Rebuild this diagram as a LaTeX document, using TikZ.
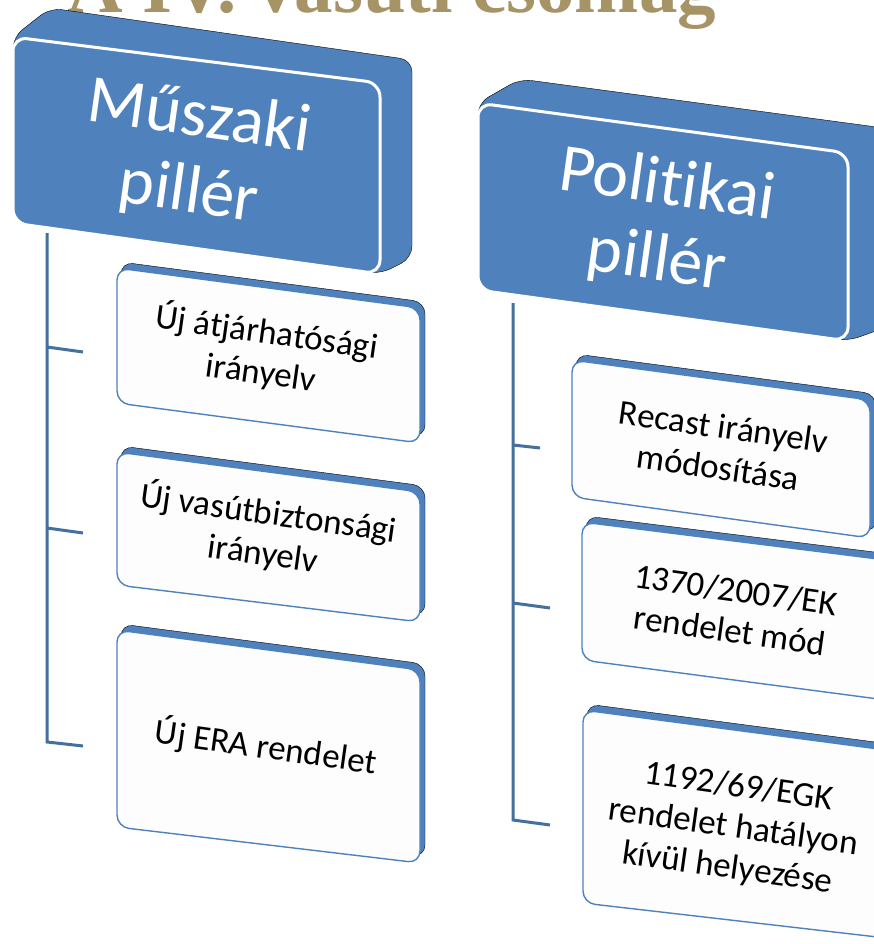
\documentclass[tikz,border=0pt]{standalone}
\usepackage{fontspec}
\setmainfont{Carlito}[Ligatures=CommonOff]
\newfontfamily\titlefont{Liberation Serif}
\definecolor{hdrblue}{HTML}{4F81BD}
\definecolor{lineblue}{HTML}{44709F}
\definecolor{titlegold}{HTML}{A69467}
\definecolor{facewhite}{HTML}{FDFDFD}
\tikzset{
  extr/.style={fill=hdrblue, rounded corners=12pt},
  hdrface/.style={fill=hdrblue, draw=white, line width=3pt, rounded corners=14pt},
  childback/.style={fill=hdrblue, rounded corners=12pt},
  childface/.style={fill=facewhite, draw=hdrblue, line width=1.4pt, rounded corners=12pt},
  hdrtext/.style={text=white, font=\fontsize{68}{76}\selectfont, align=center, rotate=-8, inner sep=0pt},
  childtext/.style={text=black, font=\fontsize{35}{41}\selectfont, align=center, rotate=-8, inner sep=0pt},
  conn/.style={draw=lineblue, line width=3pt},
  titletext/.style={text=titlegold, font=\titlefont\bfseries\fontsize{77}{80}\selectfont, anchor=base west, inner sep=0pt}
}
\begin{document}
\begin{tikzpicture}[x=1pt,y=-1pt]
\useasboundingbox (0,0) rectangle (874,944);
\clip (0,0) rectangle (874,944);
\fill[white] (0,0) rectangle (874,944);

% title (cut at top)
\node[titletext] (title) at (67,13) {A IV. vasúti csomag};

% ---- left header ----
\draw[extr] (13,37) -- (50,8) -- (412,60) -- (412,258) -- (380,274) -- (13,223) -- cycle;
\draw[hdrface] (13,37) -- (380,83) -- (380,274) -- (13,223) -- cycle;
\node[hdrtext] (hdrL) at (194,156) {Műszaki\\pillér};

% ---- right header ----
\draw[extr] (478,103) -- (520,79) -- (884,128) -- (884,328) -- (848,341) -- (478,290) -- cycle;
\draw[hdrface] (478,103) -- (848,153) -- (848,341) -- (478,290) -- cycle;
\node[hdrtext] (hdrR) at (662,224) {Politikai\\pillér};

% ---- left children ----
\draw[childback] (121,262) -- (425,302) -- (425,437) -- (121,397) -- cycle;
\draw[childface] (117,268) -- (420,308) -- (420,443) -- (117,403) -- cycle;
\node[childtext] (L1) at (264,352) {Új átjárhatósági\\irányelv};

\draw[childback] (121,446) -- (425,486) -- (425,616) -- (121,579) -- cycle;
\draw[childface] (117,452) -- (420,492) -- (420,622) -- (117,585) -- cycle;
\node[childtext] (L2) at (266,533) {Új vasútbiztonsági\\irányelv};

\draw[childback] (121,624) -- (425,664) -- (425,857) -- (121,821) -- cycle;
\draw[childface] (117,630) -- (420,670) -- (420,863) -- (117,827) -- cycle;
\node[childtext] (L3) at (266,747) {Új ERA rendelet};

% ---- right children ----
\draw[childback] (576,354) -- (876,394) -- (876,532) -- (576,491) -- cycle;
\draw[childface] (572,360) -- (870,400) -- (870,538) -- (572,497) -- cycle;
\node[childtext] (R1) at (721,447) {Recast irányelv\\módosítása};

\draw[childback] (586,516) -- (890,554) -- (890,694) -- (586,654) -- cycle;
\draw[childface] (582,522) -- (886,560) -- (886,700) -- (582,660) -- cycle;
\node[childtext] (R2) at (733,610) {1370/2007/EK\\rendelet mód};

\draw[childback] (587,704) -- (890,744) -- (890,932) -- (587,897) -- cycle;
\draw[childface] (583,710) -- (886,750) -- (886,938) -- (583,903) -- cycle;
\node[childtext] (R3) at (733,828) {1192/69/EGK\\rendelet hatályon\\kívül helyezése};

% ---- connectors ----
\coordinate (Ltop) at (47,233);
\coordinate (Lb1) at (47,347);
\coordinate (Lb2) at (47,528);
\coordinate (Lbot) at (47,742);
\coordinate (Le1) at (83,352);
\coordinate (Le2) at (83,533);
\coordinate (Le3) at (83,746);
\draw[conn] (Ltop) -- (Lbot) -- (Le3);
\draw[conn] (Lb1) -- (Le1);
\draw[conn] (Lb2) -- (Le2);

\coordinate (Rtop) at (513,303);
\coordinate (Rb1) at (513,445);
\coordinate (Rb2) at (513,603);
\coordinate (Rbot) at (513,820);
\coordinate (Re1) at (540,448);
\coordinate (Re2) at (550,608);
\coordinate (Re3) at (550,825);
\draw[conn] (Rtop) -- (Rbot) -- (Re3);
\draw[conn] (Rb1) -- (Re1);
\draw[conn] (Rb2) -- (Re2);
\end{tikzpicture}
\end{document}
